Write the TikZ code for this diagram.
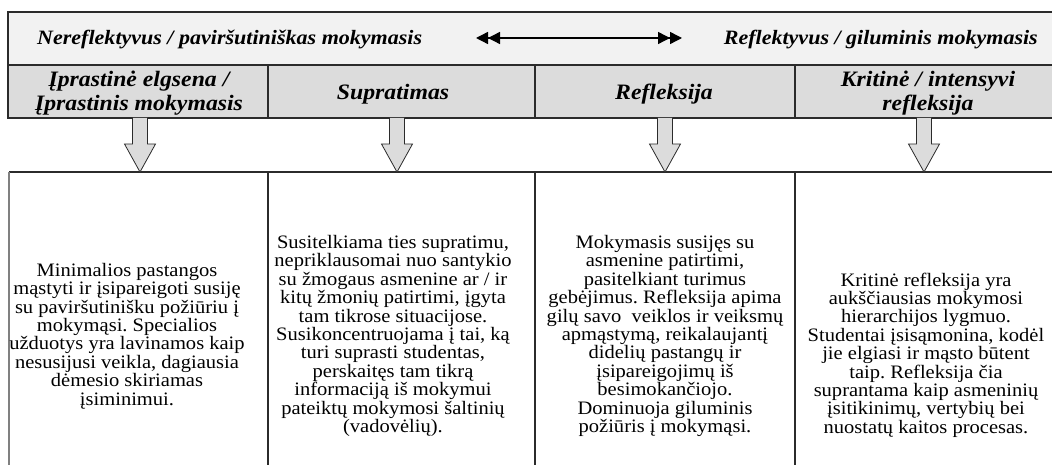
\documentclass[tikz,border=0pt]{standalone}
\usepackage{fontspec}
\XeTeXinputnormalization=1
\setmainfont{Liberation Serif}[FakeStretch=1.08]
\usetikzlibrary{arrows.meta}
\definecolor{bandfill}{HTML}{F2F2F2}
\definecolor{headfill}{HTML}{DCDCDC}
\definecolor{rulecol}{HTML}{2B2B2B}
\definecolor{sidecol}{HTML}{808080}
% block arrow pointing down from the heading row to the description row
\newcommand\blockdown[1]{%
  \draw[blockarrow] (#1-7.5,118) -- (#1-7.5,144) -- (#1-15.5,144) -- (#1,172)
    -- (#1+15.5,144) -- (#1+7.5,144) -- (#1+7.5,118);}
\begin{document}
\frenchspacing
\begin{tikzpicture}[x=1pt,y=-1pt,
  frame/.style={draw=rulecol,line width=1.1pt},
  sideline/.style={draw=sidecol,line width=1.8pt},
  blockarrow/.style={draw=rulecol,line width=0.8pt,fill=headfill,line join=miter},
  bandtext/.style={inner sep=0pt,font=\fontsize{20.4}{23}\selectfont\bfseries\itshape},
  headtext/.style={inner sep=0pt,align=center,font=\fontsize{22}{23.5}\selectfont\bfseries\itshape},
  bodytext/.style={inner sep=0pt,align=center,font=\fontsize{19}{18.4}\selectfont},
  twotip/.style={line width=1.4pt,
    {Triangle[length=12pt,width=12pt]Triangle[length=12pt,width=12pt]}-{Triangle[length=12pt,width=12pt]Triangle[length=12pt,width=12pt]}}]
\useasboundingbox (0,0) rectangle (1052,465);
\clip (0,0) rectangle (1052,465);

% top band and header row
\fill[bandfill] (8,12) rectangle (1053,65);
\fill[headfill] (8,65) rectangle (1053,118);
\draw[frame] (1053,12) -- (8,12) -- (8,118) -- (1053,118);
\draw[frame] (8,65) -- (1053,65);
\foreach \c in {268,535,795} {\draw[frame] (\c,65) -- (\c,118);}

% lower row of cells
\draw[frame] (9,172) -- (1053,172);
\draw[sideline] (9,172) -- (9,466);
\foreach \c in {268,535,795} {\draw[frame] (\c,172) -- (\c,466);}

% band labels and the double-headed arrow between them
\node[bandtext,anchor=base west] (lefttxt) at (37,45) {Nereflektyvus / paviršutiniškas mokymasis};
\node[bandtext,anchor=base east] (righttxt) at (1038,45) {Reflektyvus / giluminis mokymasis};
\coordinate (dl) at (476,38);
\coordinate (dr) at (682,38);
\draw[twotip] (dl) -- (dr);

% column headings
\node[headtext] (h1) at (139,93) {Įprastinė elgsena /\\Įprastinis mokymasis};
\node[headtext] (h2) at (393,94) {Supratimas};
\node[headtext] (h3) at (664,94) {Refleksija};
\node[headtext] (h4) at (928,93) {Kritinė / intensyvi\\refleksija};

% block arrows from headings to descriptions
\foreach \c in {140,397,665,924} {\blockdown{\c}}

% descriptions
\node[bodytext] (b1) at (127,336) {Minimalios pastangos\\mąstyti ir įsipareigoti susiję\\su paviršutinišku požiūriu į\\mokymąsi. Specialios\\užduotys yra lavinamos kaip\\nesusijusi veikla, dagiausia\\dėmesio skiriamas\\įsiminimui.};
\node[bodytext] (b2) at (393,336) {Susitelkiama ties supratimu,\\nepriklausomai nuo santykio\\su žmogaus asmenine ar / ir\\kitų žmonių patirtimi, įgyta\\tam tikrose situacijose.\\Susikoncentruojama į tai, ką\\turi suprasti studentas,\\perskaitęs tam tikrą\\informaciją iš mokymui\\pateiktų mokymosi šaltinių\\(vadovėlių).};
\node[bodytext] (b3) at (665,336) {Mokymasis susijęs su\\asmenine patirtimi,\\pasitelkiant turimus\\gebėjimus. Refleksija apima\\gilų savo \ veiklos ir veiksmų\\apmąstymą, reikalaujantį\\didelių pastangų ir\\įsipareigojimų iš\\besimokančiojo.\\Dominuoja giluminis\\požiūris į mokymąsi.};
\node[bodytext] (b4) at (926,355) {Kritinė refleksija yra\\aukščiausias mokymosi\\hierarchijos lygmuo.\\Studentai įsisąmonina, kodėl\\jie elgiasi ir mąsto būtent\\taip. Refleksija čia\\suprantama kaip asmeninių\\įsitikinimų, vertybių bei\\nuostatų kaitos procesas.};
\end{tikzpicture}
\end{document}
